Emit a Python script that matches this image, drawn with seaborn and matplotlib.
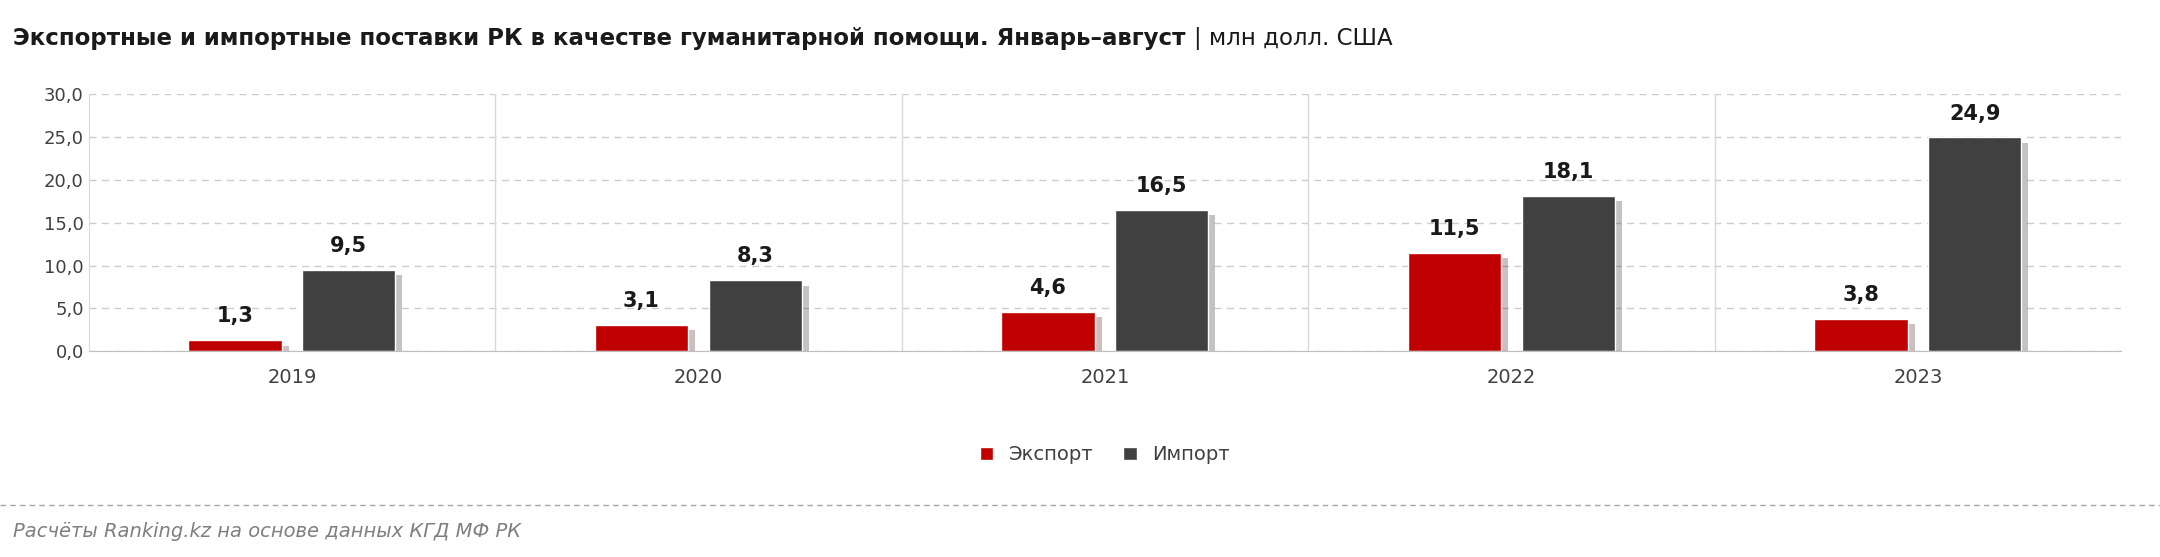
import pandas as pd
import matplotlib.pyplot as plt
import matplotlib.patheffects as pe
import seaborn as sns

years = ["2019", "2020", "2021", "2022", "2023"]
export_vals = [1.3, 3.1, 4.6, 11.5, 3.8]
import_vals = [9.5, 8.3, 16.5, 18.1, 24.9]
series = ["Экспорт", "Импорт"]

df = pd.DataFrame({
    "year": years * 2,
    "value": export_vals + import_vals,
    "series": [series[0]] * len(years) + [series[1]] * len(years),
})

sns.set_style("white")
plt.rcParams["font.family"] = ["DejaVu Sans"]

fig = plt.figure(figsize=(21.6, 5.57), dpi=100)
ax = fig.add_axes([0.041, 0.369, 0.941, 0.463])

sns.barplot(data=df, x="year", y="value", hue="series", ax=ax,
            palette=["#C00000", "#404040"], width=0.56, gap=0.18,
            saturation=1, legend=True)

for cont in ax.containers:
    for p in cont.patches:
        p.set_path_effects([pe.SimplePatchShadow(offset=(5, -4), alpha=0.25), pe.Normal()])
    ax.bar_label(cont, labels=[f"{v:.1f}".replace(".", ",") for v in cont.datavalues],
                 padding=10, fontsize=15, fontweight="bold", color="#1a1a1a")

ax.set_ylim(0, 30)
ax.set_xlim(-0.5, 4.5)
ax.set_yticks(range(0, 31, 5))
ax.set_yticklabels([f"{v:.1f}".replace(".", ",") for v in range(0, 31, 5)], fontsize=13, color="#404040")
ax.tick_params(axis="x", labelsize=14, colors="#404040", length=0, pad=12)
ax.tick_params(axis="y", length=0)
ax.set_xlabel("")
ax.set_ylabel("")
ax.yaxis.grid(True, linestyle=(0, (5, 4)), color="#cccccc", linewidth=1)
ax.set_axisbelow(True)
for x in [0.5, 1.5, 2.5, 3.5]:
    ax.axvline(x, color="#d9d9d9", linewidth=1)
for s in ["top", "right"]:
    ax.spines[s].set_visible(False)
ax.spines["left"].set_color("#d9d9d9")
ax.spines["bottom"].set_color("#bfbfbf")

leg = ax.legend(loc="center", bbox_to_anchor=(0.5, -0.4), ncol=2, frameon=False,
                fontsize=14, handlelength=0.7, handleheight=0.7, columnspacing=1.5)
for h in leg.legend_handles:
    h.set_path_effects([])
for t in leg.get_texts():
    t.set_color("#404040")

title = fig.text(0.006, 0.93, "Экспортные и импортные поставки РК в качестве гуманитарной помощи. Январь–август",
                 fontsize=16.5, fontweight="bold", color="#1a1a1a", va="center")
fig.canvas.draw()
bb = title.get_window_extent().transformed(fig.transFigure.inverted())
fig.text(bb.x1 + 0.004, 0.93, "| млн долл. США", fontsize=16.5, color="#1a1a1a", va="center")
fig.add_artist(plt.Line2D([0.0, 1.0], [0.094, 0.094], transform=fig.transFigure,
                          color="#a6a6a6", linestyle=(0, (4, 3)), linewidth=1))
fig.text(0.006, 0.045, "Расчёты Ranking.kz на основе данных КГД МФ РК", fontsize=14,
         style="italic", color="#7f7f7f", va="center")

fig.savefig("out.png", dpi=100)
